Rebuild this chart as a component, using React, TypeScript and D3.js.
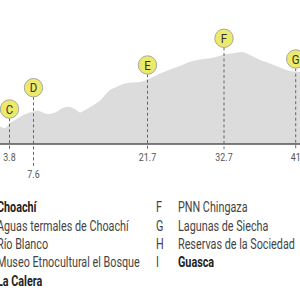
import React from "react";
import * as d3 from "d3";

// ---- data ----
const profileKm = [2.3, 3.09, 3.88, 4.67, 5.46, 6.57, 7.52, 8.16, 8.78, 9.27, 9.89, 10.51, 11.13, 11.87, 12.73, 13.35, 13.97, 14.84, 15.83, 17.06, 17.93, 18.92, 19.91, 20.77, 21.64, 22.78, 23.5, 24.94, 26.37, 27.81, 29.25, 30.69, 31.41, 32.8, 33.74, 34.78, 35.71, 36.87, 38.02, 39.18, 40.34, 41.5];
const profileElev = [1838, 1800, 1925, 2000, 2083, 2163, 2208, 2233, 2188, 2150, 2163, 2213, 2293, 2333, 2275, 2188, 2250, 2350, 2488, 2750, 2833, 2913, 2938, 2950, 3005, 3100, 3163, 3263, 3350, 3458, 3513, 3543, 3568, 3643, 3668, 3700, 3625, 3500, 3413, 3313, 3225, 3200];

const stopLetters = ["C", "D", "E", "F", "G"];
const stopKm = [3.8, 7.6, 21.7, 32.7, 41];
const stopLabels = ["3.8", "7.6", "21.7", "32.7", "41"];
const stopMarkerElev = [2275, 2808, 3375, 4043, 3525];
const stopTier = [0, 1, 0, 0, 0];

const legendLetters = ["A", "B", "C", "D", "E", "F", "G", "H", "I"];
const legendNames = [
  "Choachí",
  "Aguas termales de Choachí",
  "Río Blanco",
  "Museo Etnocultural el Bosque",
  "La Calera",
  "PNN Chingaza",
  "Lagunas de Siecha",
  "Reservas de la  Sociedad",
  "Guasca",
];
const legendBold = [true, false, false, false, true, false, false, false, true];

const W = 300;
const H = 300;
const FONT = "Roboto, 'Noto Sans', sans-serif";
const SQ = 0.77; // horizontal condensing of tick text
const SQL = 0.745; // horizontal condensing of legend text

export default function App() {
  const x = d3
    .scaleLinear()
    .domain(stopKm)
    .range([9.5, 33.5, 147.5, 224, 295.7]);
  const y = d3.scaleLinear().domain([1400, 3900]).range([144, 44]);
  const baseY = y(1400);

  const pts = profileKm.map((k, i) => [k, profileElev[i]] as [number, number]);
  const area = d3
    .area<[number, number]>()
    .x((d) => x(d[0]))
    .y0(baseY)
    .y1((d) => y(d[1]))
    .curve(d3.curveMonotoneX)(pts);

  const r = 9.2;
  const rowH = 18.4;
  const row0 = 212.2;

  return (
    <svg
      width={W}
      height={H}
      style={{ position: "fixed", left: 0, top: 0, background: "#fff" }}
      fontFamily={FONT}
    >
      <path d={area ?? ""} fill="#dcdcdc" />
      <line x1={0} x2={W} y1={baseY} y2={baseY} stroke="#555" strokeWidth={1.5} />
      {stopLetters.map((s, i) => {
        const cx = x(stopKm[i]);
        const cy = y(stopMarkerElev[i]);
        const lineEnd = stopTier[i] === 1 ? baseY + 22 : baseY + 5;
        const labelY = stopTier[i] === 1 ? baseY + 34 : baseY + 16.5;
        return (
          <g key={s}>
            <line
              x1={cx}
              x2={cx}
              y1={cy + r}
              y2={lineEnd}
              stroke="#666"
              strokeWidth={1}
              strokeDasharray="3,2.5"
            />
            <circle cx={cx} cy={cy} r={r} fill="#ede96b" stroke="#a8a8a0" strokeWidth={1} />
            <g transform={`translate(${cx},${cy + 4.8}) scale(0.85,1)`}>
              <text textAnchor="middle" fontSize={13.5} fill="#333">
                {s}
              </text>
            </g>
            <g transform={`translate(${cx},${labelY}) scale(${SQ},1)`}>
              <text textAnchor="middle" fontSize={11.5} fill="#555">
                {stopLabels[i]}
              </text>
            </g>
          </g>
        );
      })}
      {legendNames.map((name, i) => {
        const col = i < 5 ? 0 : 1;
        const row = i < 5 ? i : i - 5;
        const lx = col === 0 ? -25 : 156;
        const ty = row0 + row * rowH;
        return (
          <g key={name}>
            <g transform={`translate(${lx},${ty}) scale(${SQL},1)`}>
              <text fontSize={14.5} fill="#444">
                {legendLetters[i]}
              </text>
            </g>
            <g transform={`translate(${lx + 22},${ty}) scale(${SQL},1)`}>
              <text
                fontSize={14.5}
                fill={legendBold[i] ? "#222" : "#444"}
                fontWeight={legendBold[i] ? "bold" : "normal"}
              >
                {name}
              </text>
            </g>
          </g>
        );
      })}
    </svg>
  );
}
